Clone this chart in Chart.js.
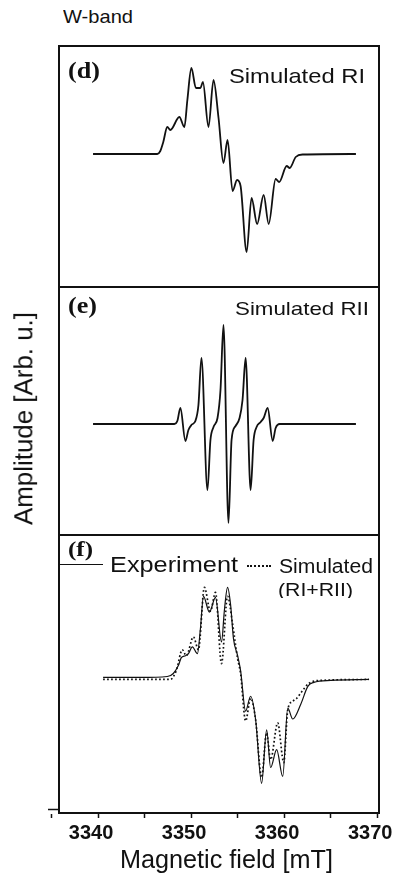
<!DOCTYPE html>
<html><head><meta charset="utf-8">
<script src="https://cdn.jsdelivr.net/npm/chart.js"></script>
<style>
html,body{margin:0;padding:0;background:#fff;}
#wrap{position:relative;width:400px;height:884px;overflow:hidden;font-family:"Liberation Sans",Arial,sans-serif;color:#111;background:#fff;}
canvas{position:absolute;left:0;}
.t{position:absolute;white-space:nowrap;line-height:1;transform-origin:0 0;}
.serif{font-family:"Liberation Serif","Times New Roman",serif;font-weight:bold;}
.seg{position:absolute;height:0;}
</style></head><body>
<div id="wrap">
  <canvas id="cd" width="405" height="253" style="top:40px"></canvas>
  <canvas id="ce" width="405" height="260" style="top:281px"></canvas>
  <canvas id="cf" width="405" height="355" style="top:529px"></canvas>

  <div class="t" data-w="70" style="left:63px;top:7.4px;font-size:19px">W-band</div>
  <div class="t serif" data-w="32" style="left:68px;top:58.5px;font-size:23px">(d)</div>
  <div class="t" data-w="136" style="left:229px;top:65.2px;font-size:21px">Simulated RI</div>
  <div class="t serif" data-w="29" style="left:68px;top:293.5px;font-size:23px">(e)</div>
  <div class="t" data-w="134" style="left:235px;top:300.3px;font-size:18.5px">Simulated RII</div>
  <div class="t serif" data-w="25" style="left:68px;top:538.6px;font-size:20px">(f)</div>
  <div class="seg" style="left:60px;top:563.5px;width:43px;border-top:1.6px solid #111"></div>
  <div class="t" data-w="128" style="left:110px;top:554.4px;font-size:22px">Experiment</div>
  <div class="seg" style="left:247px;top:564.5px;width:24px;border-top:2px dotted #111"></div>
  <div class="t" data-w="94" style="left:279px;top:555.6px;font-size:20px">Simulated</div>
  <div style="position:absolute;left:0;top:578px;width:400px;height:20px;overflow:hidden">
    <div class="t" data-w="75" style="left:278px;top:2.7px;font-size:18px">(RI+RII)</div>
  </div>
  <div class="t" data-w="213" style="left:120px;top:847.1px;font-size:25px">Magnetic field [mT]</div>
  <div class="t rot" data-w="213" data-cx="24" data-cy="418.5" style="font-size:25px">Amplitude [Arb. u.]</div>
</div>
<script>
// ---------- data ----------
const xTickValues = [3335, 3340, 3345, 3350, 3355, 3360, 3365, 3370];
const xTickLabels = ['', '3340', '', '3350', '', '3360', '', '3370'];

// (d) Simulated RI
const fieldRI = [3339.46, 3346.36, 3346.69, 3347.01, 3347.44, 3347.77, 3348.74, 3349.28, 3349.60, 3350.03, 3350.52, 3351.00, 3351.27, 3351.87, 3352.41, 3352.95, 3353.48, 3353.92, 3354.46, 3354.94, 3355.32, 3355.97, 3356.50, 3357.10, 3357.80, 3358.34, 3359.09, 3359.47, 3360.28, 3360.60, 3361.25, 3362.01, 3367.72];
const ampRI   = [0, 0, 3, 12, 27, 24, 37, 27, 54, 86, 66, 66, 72, 27, 74, 36, -9, 14, -37, -26, -32, -98, -44, -70, -41, -70, -25, -28, -12, -14, -3, -0.5, 0];

// (e) Simulated RII
const fieldRII = [3339.46, 3348.20, 3348.52, 3348.85, 3349.39, 3349.71, 3350.03, 3350.46, 3350.79, 3351.11, 3351.76, 3352.08, 3352.41, 3352.84, 3353.16, 3353.48, 3354.02, 3354.35, 3354.78, 3355.21, 3355.53, 3355.86, 3356.40, 3356.72, 3357.04, 3357.48, 3357.80, 3358.23, 3358.77, 3359.09, 3359.53, 3367.72];
const ampRII   = [0, 0, 3, 16, -17, -6, -1, 3, 19, 66, -66, -16, -3, 6, 34, 99, -99, -16, -2, 6, 24, 66, -66, -16, -3, 2, 6, 16, -17, -4, 0, 0];

// (f) Experiment
const fieldExp = [3340.54, 3344.53, 3347.44, 3348.09, 3348.63, 3348.95, 3349.39, 3349.71, 3350.14, 3350.68, 3351.00, 3351.33, 3351.97, 3352.62, 3353.27, 3353.59, 3353.92, 3354.24, 3354.56, 3355.00, 3355.32, 3355.86, 3356.40, 3356.94, 3357.58, 3358.12, 3358.55, 3359.20, 3359.85, 3360.39, 3360.93, 3361.79, 3362.55, 3363.19, 3365.03, 3369.13];
const ampExp   = [1, 1, 2, 5, 13, 21, 23, 25, 32, 25, 50, 83, 67, 82, 37, 70, 92, 75, 40, 23, 8, -33, -18, -42, -106, -52, -90, -72, -99, -30, -41, -26, -8, -4, -2, -1];

// (f) Simulated (RI+RII)
const fieldSim = [3340.54, 3347.77, 3348.41, 3349.06, 3349.49, 3350.25, 3350.79, 3351.43, 3352.08, 3352.62, 3353.27, 3353.92, 3354.46, 3355.00, 3355.32, 3355.86, 3356.40, 3356.94, 3357.58, 3358.12, 3358.55, 3359.31, 3359.96, 3360.39, 3360.93, 3361.36, 3362.01, 3362.65, 3363.95, 3369.13];
const ampSim   = [-1, -1, 8, 29, 23, 42, 29, 92, 68, 87, 15, 83, 55, 20, 5, -43, -20, -42, -100, -55, -82, -45, -85, -32, -23, -20, -12, -5, -2, -1];

// ---------- chart setup ----------
const X_MIN = 3335.8, X_MAX = 3370.2;
const INK = '#111';

const framePlugin = {
  id: 'frame',
  afterDraw(chart) {
    const {ctx, chartArea: a} = chart;
    ctx.save();
    ctx.strokeStyle = INK;
    ctx.lineWidth = 2;
    ctx.strokeRect(a.left, a.top, a.right - a.left, a.bottom - a.top);
    if (chart.options.plugins.frame && chart.options.plugins.frame.stub) {
      ctx.lineWidth = 1.5;
      ctx.beginPath();
      ctx.moveTo(a.left - 11, a.bottom - 3.5);
      ctx.lineTo(a.left, a.bottom - 3.5);
      ctx.stroke();
    }
    ctx.restore();
  }
};

function pts(xs, ys) { return xs.map((x, i) => ({x: x, y: ys[i]})); }

function makePanel(id, datasets, yMin, yMax, showX, padBottom) {
  return new Chart(document.getElementById(id), {
    type: 'line',
    data: {datasets: datasets},
    options: {
      responsive: false,
      animation: false,
      devicePixelRatio: 1,
      layout: {padding: {left: 59, right: 26, top: 6, bottom: padBottom}},
      plugins: {legend: {display: false}, tooltip: {enabled: false}, frame: {stub: showX}},
      elements: {point: {radius: 0}, line: {cubicInterpolationMode: 'monotone'}},
      scales: {
        x: {
          type: 'linear', min: X_MIN, max: X_MAX, display: showX, position: 'bottom',
          afterBuildTicks: s => { s.ticks = xTickValues.map(v => ({value: v})); },
          grid: {display: true, drawOnChartArea: false, drawTicks: true, tickLength: 5, tickColor: INK, tickWidth: 1.5},
          border: {display: true, color: INK, width: 2},
          ticks: {
            autoSkip: false, maxRotation: 0, padding: 3, labelOffset: -7, color: INK,
            font: {family: 'Liberation Sans', size: 20, weight: 'bold'},
            callback: (v, i) => xTickLabels[i]
          }
        },
        y: {min: yMin, max: yMax, display: false}
      }
    },
    plugins: [framePlugin]
  });
}

makePanel('cd', [{data: pts(fieldRI, ampRI), borderColor: INK, borderWidth: 1.8}], -133, 108, false, 6);
makePanel('ce', [{data: pts(fieldRII, ampRII), borderColor: INK, borderWidth: 1.8}], -111, 137, false, 6);
makePanel('cf', [
  {data: pts(fieldExp, ampExp), borderColor: INK, borderWidth: 1.2},
  {data: pts(fieldSim, ampSim), borderColor: INK, borderWidth: 1.7, borderDash: [1.7, 2.3]}
], -136, 145, true, 36);

// ---------- fit text widths ----------
document.querySelectorAll('.t').forEach(el => {
  const target = parseFloat(el.dataset.w);
  const nat = el.getBoundingClientRect().width;
  const k = target / nat;
  if (el.classList.contains('rot')) {
    const fs = parseFloat(el.style.fontSize);
    el.style.left = (parseFloat(el.dataset.cx) - nat / 2) + 'px';
    el.style.top = (parseFloat(el.dataset.cy) - fs / 2) + 'px';
    el.style.transformOrigin = '50% 50%';
    el.style.transform = 'rotate(-90deg) scaleX(' + k + ')';
  } else {
    el.style.transform = 'scaleX(' + k + ')';
  }
});
</script>
</body></html>
